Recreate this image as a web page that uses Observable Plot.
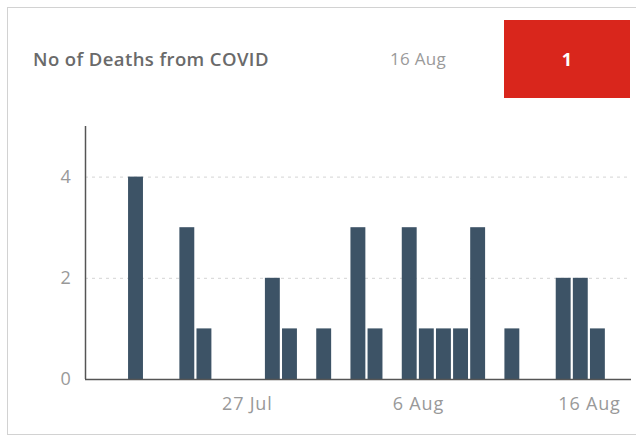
<!DOCTYPE html>
<html>
<head>
<meta charset="utf-8">
<script src="https://cdn.jsdelivr.net/npm/d3@7"></script>
<script src="https://cdn.jsdelivr.net/npm/@observablehq/plot@0.6"></script>
<style>
  html, body { margin: 0; padding: 0; background: #fff; }
  body { width: 636px; height: 441px; position: relative; overflow: hidden; font-family: "Open Sans", sans-serif; }
  #panel { position: absolute; left: 7px; top: 7px; width: 700px; height: 428px; border: 1.5px solid #d2d2d2; box-sizing: border-box; }
  #header { position: relative; height: 100px; }
  #title { position: absolute; left: 33px; top: 46px; font-size: 18.5px; font-weight: 600; color: #6a6a6a; letter-spacing: 0.4px; white-space: nowrap; }
  #date { position: absolute; left: 390px; top: 47px; font-size: 17px; color: #9a9a9a; letter-spacing: 0.3px; white-space: nowrap; }
  #badge { position: absolute; left: 504px; top: 20px; width: 126px; height: 78px; background: #d9261c; color: #fff; font-size: 18px; font-weight: 700; display: flex; align-items: center; justify-content: center; }
  #chart { position: absolute; left: 0; top: 100px; }
  #chart text { letter-spacing: 0.8px; }
</style>
</head>
<body>
<div id="panel"></div>
<div id="header">
  <div id="title"></div>
  <div id="date"></div>
  <div id="badge"></div>
</div>
<div id="chart"></div>
<script>
// Data (days with no bar have 0 deaths)
const dates = ["2020-07-20","2020-07-23","2020-07-24","2020-07-28","2020-07-29","2020-07-31",
               "2020-08-02","2020-08-03","2020-08-05","2020-08-06","2020-08-07","2020-08-08",
               "2020-08-09","2020-08-11","2020-08-14","2020-08-15","2020-08-16"];
const deaths = [4, 3, 1, 2, 1, 1, 3, 1, 3, 1, 1, 1, 3, 1, 2, 2, 1];
const xTickDates = ["2020-07-27", "2020-08-06", "2020-08-16"];
const yTicks = [0, 2, 4];
const yGrid = [2, 4];
const titleText = "No of Deaths from COVID";
const latestLabel = "16 Aug";
const latestValue = 1;
const xDomain = ["2020-07-17T13:00Z", "2020-08-18T11:00Z"];
const yDomain = [0, 5];

document.getElementById("title").textContent = titleText;
document.getElementById("date").textContent = latestLabel;
document.getElementById("badge").textContent = latestValue;

const data = dates.map((d, i) => ({date: new Date(d + "T00:00Z"), value: deaths[i]}));
const fmt = d3.utcFormat("%-d %b");
const x0 = new Date(xDomain[0]);

const chart = Plot.plot({
  width: 636,
  height: 341,
  marginLeft: 85,
  marginRight: 5,
  marginTop: 26,
  marginBottom: 62,
  style: {fontFamily: "Open Sans, sans-serif", background: "transparent"},
  x: {type: "utc", domain: xDomain.map(d => new Date(d))},
  y: {domain: yDomain},
  marks: [
    Plot.ruleY(yGrid, {stroke: "#d4d4d4", strokeDasharray: "3,4", strokeWidth: 1}),
    Plot.rectY(data, {
      x1: "date",
      x2: d => d3.utcDay.offset(d.date, 1),
      y: "value",
      fill: "#3d5366",
      insetLeft: 1,
      insetRight: 1.2
    }),
    Plot.ruleY([0], {stroke: "#555", strokeWidth: 1.5}),
    Plot.ruleX([x0], {stroke: "#555", strokeWidth: 1.5}),
    Plot.axisY({ticks: yTicks, tickFormat: "d", tickSize: 0, tickPadding: 14, fontSize: 18, fill: "#999", label: null}),
    Plot.axisX({ticks: xTickDates.map(d => new Date(d + "T00:00Z")), tickFormat: fmt, tickSize: 0, tickPadding: 18, fontSize: 18, fill: "#999", label: null})
  ]
});
document.getElementById("chart").appendChild(chart);
</script>
</body>
</html>
